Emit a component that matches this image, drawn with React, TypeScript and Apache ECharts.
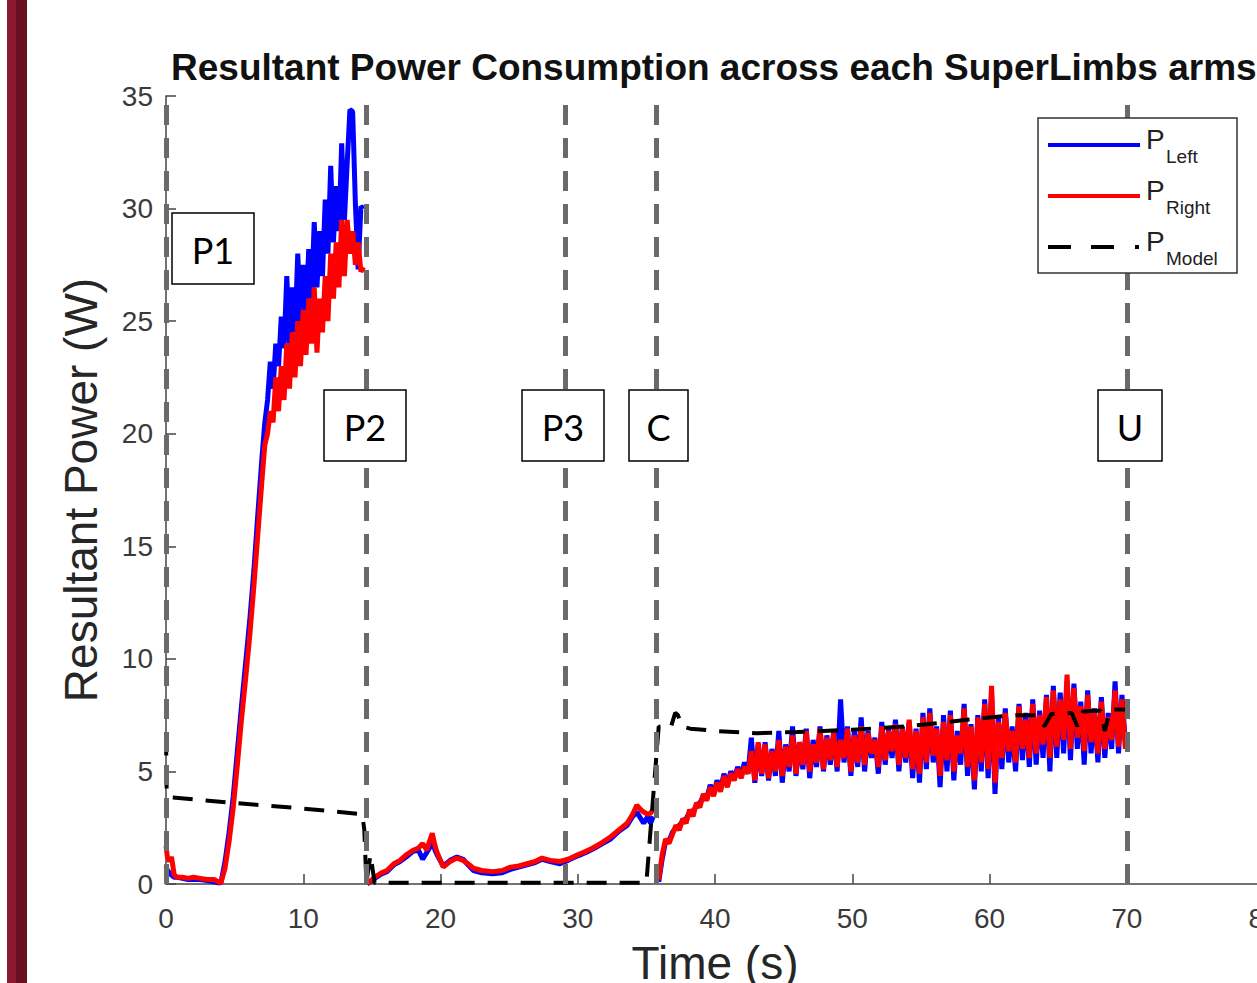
import React, { useEffect, useRef } from "react";
import * as echarts from "echarts";

// ---------- data ----------
const xTicksMax = 80;
const yTicksMax = 35;

// Phase 1 (0 – 14.4 s)
const seg1Times = [0, 0.1, 0.25, 0.4, 0.6, 0.8, 1.2, 1.6, 2.0, 2.5, 3.0, 3.5, 3.8, 4.0, 4.3, 4.6, 4.9, 5.2, 5.5, 5.8, 6.1, 6.4, 6.7, 7.0, 7.2,
  7.4, 7.6, 7.8, 8.0, 8.2, 8.4, 8.6, 8.8, 9.0, 9.2, 9.4, 9.6, 9.8, 10.0, 10.2, 10.4, 10.6, 10.8, 11.0, 11.2, 11.4, 11.6, 11.8, 12.0,
  12.2, 12.4, 12.6, 12.8, 13.0, 13.2, 13.4, 13.6, 13.8, 14.0, 14.2, 14.4];
const seg1Left = [0.8, 0.6, 0.5, 0.4, 0.3, 0.3, 0.25, 0.2, 0.2, 0.2, 0.15, 0.1, 0.05, 0.05,
  1.0, 2.3, 3.9, 5.9, 7.9, 9.8, 11.7, 13.9, 16.5, 19.0, 20.5,
  21.5, 23.2, 22.0, 24.0, 23.0, 25.2, 23.8, 27.0, 24.0, 26.5, 24.5, 28.0, 25.0, 27.5, 25.5, 28.2, 26.0, 29.4, 26.5, 29.0, 27.0, 30.4,
  28.0, 31.9, 28.5, 31.0, 29.0, 32.9, 29.5, 32.0, 34.4, 34.3, 30.2, 27.3, 30.1, 30.0];
const seg1Right = [1.7, 1.2, 1.0, 1.2, 0.4, 0.3, 0.3, 0.25, 0.3, 0.25, 0.2, 0.2, 0.1, 0.05,
  0.7, 1.9, 3.4, 5.3, 7.3, 9.1, 11.0, 13.2, 15.6, 18.0, 19.5,
  20.0, 21.0, 20.5, 22.5, 21.0, 23.0, 21.5, 24.0, 22.0, 24.5, 22.5, 25.0, 23.0, 25.5, 23.5, 26.0, 24.0, 26.5, 23.6, 26.0, 24.5, 27.0,
  25.0, 28.0, 26.0, 28.5, 26.5, 29.5, 27.0, 29.5, 28.0, 29.0, 27.5, 28.5, 27.2, 27.4];

// Phases 2–3 (14.65 – 35.5 s)
const seg2Times = [14.65, 15.2, 15.7, 16.1, 16.6, 17.05, 17.5, 18.0, 18.4, 18.7, 19.0, 19.2, 19.4, 19.6, 19.75, 20.2, 20.7, 21.2, 21.65,
  22.0, 22.4, 23.0, 23.8, 24.5, 25.1, 25.7, 26.3, 26.9, 27.4, 28.0, 28.7, 29.3, 30.0, 30.6, 31.1, 31.8, 32.4, 33.0, 33.6, 34.0, 34.3,
  34.6, 34.8, 35.1, 35.3, 35.5];
const seg2Left = [0.0, 0.25, 0.45, 0.55, 0.85, 1.0, 1.2, 1.45, 1.5, 1.1, 1.4, 1.6, 2.0, 1.5, 1.3, 0.8, 1.05, 1.2, 1.1, 0.85, 0.6, 0.5,
  0.45, 0.5, 0.65, 0.75, 0.85, 0.95, 1.1, 1.0, 0.9, 1.05, 1.25, 1.4, 1.55, 1.8, 2.0, 2.35, 2.6, 3.0, 3.2, 2.9, 2.7, 3.0, 2.7, 3.0];
const seg2Right = [0.0, 0.3, 0.5, 0.6, 0.9, 1.05, 1.3, 1.5, 1.6, 1.8, 1.5, 1.9, 2.25, 1.7, 1.4, 0.75, 1.0, 1.15, 1.05, 0.9, 0.7, 0.6,
  0.55, 0.6, 0.75, 0.8, 0.9, 1.0, 1.15, 1.05, 1.0, 1.1, 1.3, 1.45, 1.6, 1.85, 2.1, 2.4, 2.7, 3.1, 3.5, 3.3, 3.2, 3.1, 3.15, 3.3];

// Carrying / unloading (35.9 – 69.9 s, sampled every 0.25 s)
const seg3Start = 35.9;
const seg3Step = 0.25;
const seg3Left = [
  0.1, 1.1, 1.9, 1.9, 2.3, 2.5, 2.6, 2.8,
  2.9, 3.2, 3.2, 3.5, 3.6, 3.9, 3.8, 4.4,
  4.0, 4.6, 4.2, 4.9, 4.4, 5.0, 4.7, 5.2,
  4.8, 5.4, 4.9, 6.5, 4.5, 6.2, 4.8, 6.3,
  4.6, 6.0, 4.8, 6.8, 4.5, 6.2, 5.0, 7.0,
  4.8, 6.3, 5.1, 6.9, 4.7, 6.4, 5.2, 7.0,
  5.0, 6.6, 5.3, 6.8, 5.0, 8.2, 5.4, 7.0,
  4.8, 6.8, 5.2, 7.4, 5.0, 6.8, 5.6, 6.5,
  4.9, 7.2, 5.3, 6.9, 5.6, 7.3, 5.0, 7.0,
  5.4, 7.2, 4.7, 6.9, 4.5, 7.6, 5.1, 7.8,
  5.4, 7.0, 4.3, 7.5, 5.0, 7.7, 4.6, 6.8,
  5.3, 8.0, 4.8, 7.1, 4.2, 7.5, 5.0, 8.2,
  4.7, 8.5, 4.0, 7.4, 5.1, 7.8, 5.4, 7.0,
  5.0, 8.0, 5.5, 7.6, 5.2, 8.2, 5.3, 7.7,
  5.6, 8.4, 5.0, 8.8, 5.6, 8.5, 5.8, 9.0,
  5.5, 8.9, 6.0, 8.1, 5.3, 8.6, 5.8, 7.8,
  5.4, 8.3, 5.6, 7.6, 6.0, 9.0, 5.8, 8.4,
  6.3];
const seg3Right = [
  0.2, 1.3, 2.0, 1.8, 2.2, 2.6, 2.4, 2.9,
  2.7, 3.3, 3.0, 3.6, 3.4, 4.0, 3.7, 4.3,
  3.9, 4.5, 4.1, 4.8, 4.3, 4.9, 4.6, 5.1,
  4.7, 5.2, 4.9, 5.9, 4.6, 6.3, 4.9, 6.2,
  4.7, 5.9, 5.0, 6.4, 4.8, 6.1, 5.2, 6.6,
  4.9, 6.3, 5.3, 6.8, 5.0, 6.2, 5.4, 6.9,
  5.1, 6.5, 5.5, 6.7, 5.2, 6.4, 5.6, 6.9,
  5.0, 6.6, 5.4, 7.0, 5.3, 6.7, 5.8, 6.4,
  5.2, 7.0, 5.5, 6.8, 5.9, 7.1, 5.3, 6.9,
  5.6, 7.3, 5.1, 6.8, 4.9, 7.4, 5.4, 7.6,
  5.7, 6.9, 4.8, 7.2, 5.5, 7.5, 5.0, 6.6,
  5.8, 7.8, 5.2, 7.0, 4.6, 7.4, 5.4, 8.0,
  5.1, 8.8, 4.5, 7.2, 5.6, 7.6, 5.9, 6.8,
  5.4, 7.9, 6.0, 7.3, 5.6, 8.0, 5.8, 7.5,
  6.2, 8.3, 5.6, 8.6, 6.1, 8.2, 6.4, 9.3,
  6.0, 8.7, 6.5, 7.9, 5.9, 8.4, 6.3, 7.6,
  5.8, 8.1, 6.0, 7.4, 6.4, 8.6, 6.1, 8.2,
  6.0];

// Model
const modelTimes = [0, 0.05, 0.3, 5, 10, 14.3, 14.45, 14.6, 14.9, 15.2, 16, 20, 25, 30, 35.0, 35.9, 36.3, 36.8, 37.1, 37.3,
  37.6, 38.2, 40, 43, 46, 50, 54, 57, 60, 62, 63.5, 64, 64.5, 66, 66.4, 66.8, 67.5, 68.1, 68.4, 68.8, 70];
const modelPower = [6.6, 4.0, 3.85, 3.6, 3.35, 3.1, 2.4, 0.05, 1.3, 0.05, 0.05, 0.05, 0.05, 0.05, 0.05, 7.0, 6.9, 7.0, 7.6, 7.5,
  7.0, 6.9, 6.8, 6.7, 6.75, 6.85, 7.0, 7.2, 7.4, 7.5, 7.5, 7.0, 7.55, 7.6, 7.0, 7.65, 7.7, 7.7, 6.8, 7.75, 7.75];

// Phase boundaries and labels
const phaseLines = [0, 14.6, 29.1, 35.75, 70.05];
const phaseLabels = ["P1", "P2", "P3", "C", "U"];

// ---------- helpers ----------
const GAP = "-";
function buildSeries(
  t1: number[], v1: number[], t2: number[], v2: number[], v3: number[]
) {
  const out: any[] = [];
  t1.forEach((t, i) => out.push([t, v1[i]]));
  out.push([14.5, GAP]);
  t2.forEach((t, i) => out.push([t, v2[i]]));
  out.push([35.7, GAP]);
  v3.forEach((v, i) => out.push([+(seg3Start + i * seg3Step).toFixed(2), v]));
  return out;
}

const leftData = buildSeries(seg1Times, seg1Left, seg2Times, seg2Left, seg3Left);
const rightData = buildSeries(seg1Times, seg1Right, seg2Times, seg2Right, seg3Right);
const modelData = modelTimes.map((t, i) => [t, modelPower[i]]);

const FONT = "'Liberation Sans', Arial, Helvetica, sans-serif";
const BOXFONT = "Lato, 'Open Sans', sans-serif";

// annotation box geometry (pixels)
const boxes = [
  { x: 172, y: 213, w: 82, h: 71 },
  { x: 324, y: 390, w: 82, h: 71 },
  { x: 522, y: 390, w: 82, h: 71 },
  { x: 629, y: 390, w: 59, h: 71 },
  { x: 1098, y: 390, w: 64, h: 71 },
];

export default function App() {
  const ref = useRef<HTMLDivElement>(null);
  useEffect(() => {
    if (!ref.current) return;
    const chart = echarts.init(ref.current, undefined, { renderer: "svg" });

    const graphics: any[] = [
      // dark red side bar
      { type: "rect", shape: { x: 7, y: 0, width: 10, height: 1100 }, style: { fill: "#8c1a2f" }, z: 100 },
      { type: "rect", shape: { x: 16, y: 0, width: 11, height: 1100 }, style: { fill: "#661022" }, z: 100 },
    ];
    boxes.forEach((b, i) => {
      graphics.push({
        type: "rect",
        shape: { x: b.x, y: b.y, width: b.w, height: b.h },
        style: { fill: "#fff", stroke: "#000", lineWidth: 1.5 },
        z: 50,
      });
      graphics.push({
        type: "text",
        x: b.x + b.w / 2,
        y: b.y + b.h / 2 + 1,
        style: {
          text: phaseLabels[i],
          fontSize: 36,
          fontFamily: BOXFONT,
          fill: "#000",
          align: "center",
          verticalAlign: "middle",
        },
        z: 51,
      });
    });
    // legend
    const lx = 1038, ly = 118;
    graphics.push({
      type: "rect",
      shape: { x: lx, y: ly, width: 199, height: 155 },
      style: { fill: "#fff", stroke: "#333", lineWidth: 1.5 },
      z: 60,
    });
    const legendItems = [
      { y: 145, color: "#0000ff", sub: "Left", dash: null },
      { y: 196, color: "#ff0000", sub: "Right", dash: null },
      { y: 247, color: "#000000", sub: "Model", dash: [23, 20, 23, 21, 4, 40] },
    ];
    legendItems.forEach((it) => {
      graphics.push({
        type: "line",
        shape: { x1: 1048, y1: it.y, x2: 1140, y2: it.y },
        style: { stroke: it.color, lineWidth: 4, lineDash: it.dash || undefined },
        z: 61,
      });
      graphics.push({
        type: "text",
        x: 1146,
        y: it.y + 8,
        style: { text: "P", fontSize: 28, fontFamily: FONT, fill: "#222", verticalAlign: "bottom" },
        z: 61,
      });
      graphics.push({
        type: "text",
        x: 1166,
        y: it.y + 21,
        style: { text: it.sub, fontSize: 19, fontFamily: FONT, fill: "#222", verticalAlign: "bottom" },
        z: 61,
      });
    });

    chart.setOption({
      animation: false,
      backgroundColor: "#ffffff",
      title: {
        text: "Resultant Power Consumption across each SuperLimbs arms",
        left: 166,
        top: 44,
        textStyle: { fontSize: 37, fontWeight: "bold", fontFamily: FONT, color: "#111" },
      },
      grid: { left: 166, top: 96, width: 1098, height: 788, containLabel: false },
      xAxis: {
        type: "value",
        min: 0,
        max: xTicksMax,
        interval: 10,
        name: "Time (s)",
        nameLocation: "middle",
        nameGap: 56,
        nameTextStyle: { fontSize: 46, fontFamily: FONT, color: "#262626" },
        axisLine: { show: true, lineStyle: { color: "#444", width: 1.5 } },
        axisTick: { show: true, inside: true, length: 10, lineStyle: { color: "#444", width: 1.5 } },
        axisLabel: { fontSize: 28, fontFamily: FONT, color: "#3a3a3a", margin: 20 },
        splitLine: { show: false },
      },
      yAxis: {
        type: "value",
        min: 0,
        max: yTicksMax,
        interval: 5,
        name: "Resultant Power (W)",
        nameLocation: "middle",
        nameGap: 62,
        nameTextStyle: { fontSize: 46, fontFamily: FONT, color: "#262626" },
        axisLine: { show: true, lineStyle: { color: "#444", width: 1.5 } },
        axisTick: { show: true, inside: true, length: 10, lineStyle: { color: "#444", width: 1.5 } },
        axisLabel: { fontSize: 28, fontFamily: FONT, color: "#3a3a3a", margin: 13 },
        splitLine: { show: false },
      },
      series: [
        {
          name: "PLeft",
          type: "line",
          data: leftData,
          showSymbol: false,
          connectNulls: false,
          lineStyle: { color: "#0000ff", width: 5 },
          itemStyle: { color: "#0000ff" },
          z: 2,
          markLine: {
            silent: true,
            symbol: ["none", "none"],
            label: { show: false },
            lineStyle: { color: "#6a6a6a", width: 5, type: [20, 13] },
            data: phaseLines.map((x) => ({ xAxis: x })),
          },
        },
        {
          name: "PRight",
          type: "line",
          data: rightData,
          showSymbol: false,
          connectNulls: false,
          lineStyle: { color: "#ff0000", width: 5 },
          itemStyle: { color: "#ff0000" },
          z: 3,
        },
        {
          name: "PModel",
          type: "line",
          data: modelData,
          showSymbol: false,
          lineStyle: { color: "#000", width: 4, type: [20, 13] },
          itemStyle: { color: "#000" },
          z: 4,
        },
      ],
      graphic: graphics,
    });
    return () => chart.dispose();
  }, []);

  return (
    <div style={{ position: "fixed", left: 0, top: 0, width: 1257, height: 983, overflow: "hidden", background: "#fff" }}>
      <div ref={ref} style={{ width: 1400, height: 1080 }} />
    </div>
  );
}
